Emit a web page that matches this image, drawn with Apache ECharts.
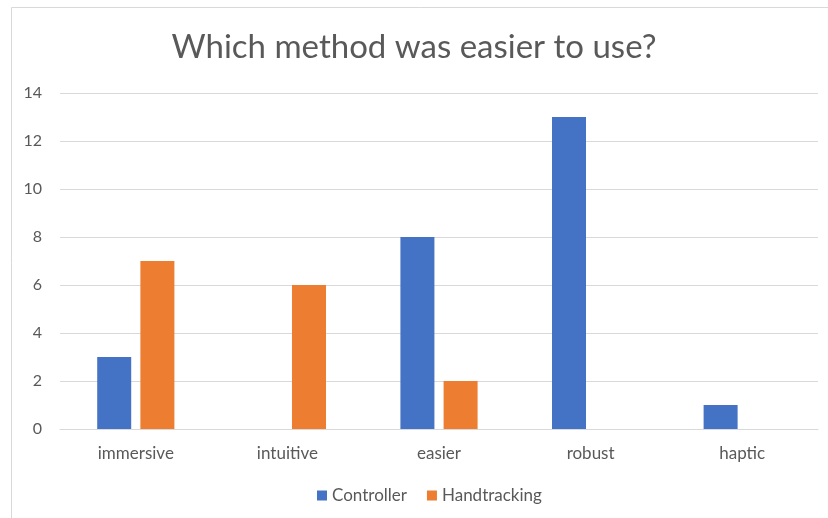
<!DOCTYPE html>
<html>
<head>
<meta charset="utf-8">
<script src="https://cdn.jsdelivr.net/npm/echarts@6/dist/echarts.min.js"></script>
<style>
  html, body { margin: 0; padding: 0; background: #ffffff; }
  #chart { width: 828px; height: 518px; }
</style>
</head>
<body>
<div id="chart"></div>
<script>
const categories = ['immersive', 'intuitive', 'easier', 'robust', 'haptic'];
const controller = [3, 0, 8, 13, 1];
const handtracking = [7, 6, 2, 0, 0];
const yTicks = { min: 0, max: 14, interval: 2 };

const font = 'Lato, "Open Sans", sans-serif';
const textColor = '#595959';

const chart = echarts.init(document.getElementById('chart'), null, { renderer: 'canvas' });
chart.setOption({
  backgroundColor: '#ffffff',
  animation: false,
  title: {
    text: 'Which method was easier to use?',
    left: 'center',
    top: 26,
    textStyle: { fontFamily: font, fontSize: 33, fontWeight: 'normal', color: textColor }
  },
  legend: {
    data: ['Controller', 'Handtracking'],
    bottom: 9,
    left: 312,
    itemWidth: 10,
    itemHeight: 10,
    itemGap: 20,
    icon: 'rect',
    textStyle: { fontFamily: font, fontSize: 17, color: textColor }
  },
  grid: { left: 60, right: 10, top: 93, bottom: 89, containLabel: false },
  xAxis: {
    type: 'category',
    data: categories,
    axisLine: { show: true, lineStyle: { color: '#d9d9d9', width: 1 } },
    axisTick: { show: false },
    axisLabel: { fontFamily: font, fontSize: 17, color: textColor, margin: 16 }
  },
  yAxis: {
    type: 'value',
    min: yTicks.min,
    max: yTicks.max,
    interval: yTicks.interval,
    axisLine: { show: false },
    axisTick: { show: false },
    splitLine: { lineStyle: { color: '#d9d9d9', width: 1 } },
    axisLabel: { fontFamily: font, fontSize: 16, color: textColor, margin: 18 }
  },
  series: [
    {
      name: 'Controller',
      type: 'bar',
      data: controller,
      barWidth: 34,
      barGap: '27%',
      itemStyle: { color: '#4472c4' }
    },
    {
      name: 'Handtracking',
      type: 'bar',
      data: handtracking,
      barWidth: 34,
      itemStyle: { color: '#ed7d31' }
    }
  ],
  graphic: [
    {
      type: 'rect',
      shape: { x: 11.5, y: 7.5, width: 840, height: 540 },
      style: { fill: 'none', stroke: '#d9d9d9', lineWidth: 1 },
      silent: true,
      z: -1
    }
  ]
});
</script>
</body>
</html>
